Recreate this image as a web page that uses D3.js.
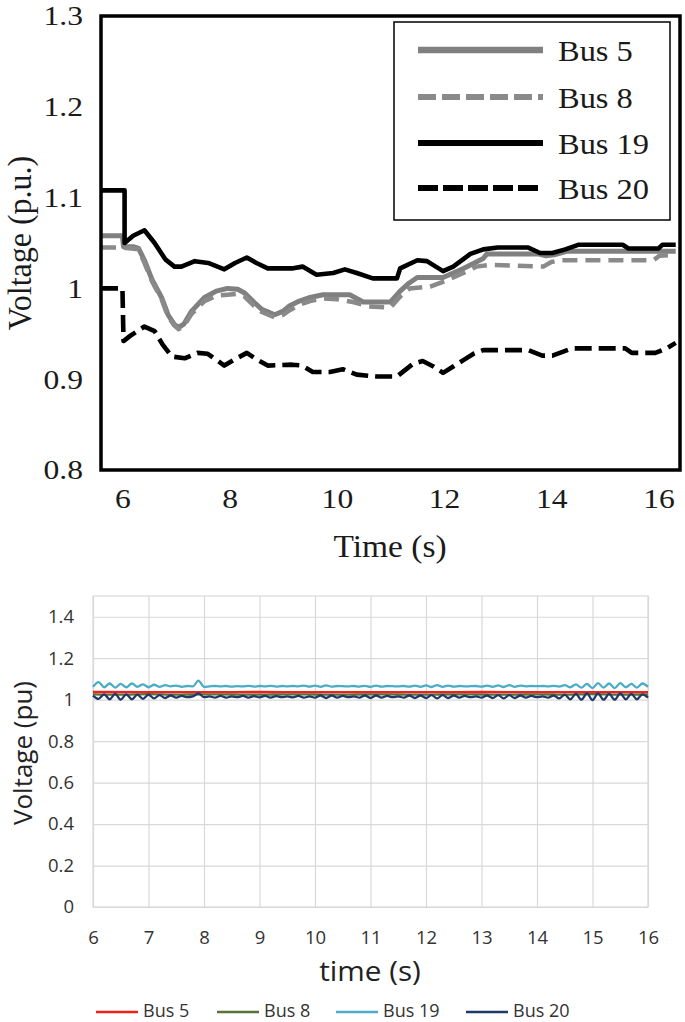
<!DOCTYPE html>
<html><head><meta charset="utf-8">
<script src="https://cdn.jsdelivr.net/npm/d3@7"></script>
<style>body{margin:0;background:#fff;} svg{display:block;}</style>
</head><body>
<svg id="c" width="685" height="1022"></svg>
<script>
// ================= TOP CHART DATA =================
const topSeriesNames = ["Bus 5", "Bus 8", "Bus 19", "Bus 20"];
const topYTicks = [0.8, 0.9, 1.0, 1.1, 1.2, 1.3];
const topYTickLabels = ["0.8", "0.9", "1", "1.1", "1.2", "1.3"];
const topXTicks = [6, 8, 10, 12, 14, 16];

const bus5Time = [5.6,6.0,6.02,6.2,6.3,6.41,6.55,6.73,6.85,6.97,7.05,7.15,7.29,7.53,7.75,7.96,8.15,8.28,8.45,8.6,8.84,9.0,9.12,9.3,9.5,9.74,10.24,10.49,11.0,11.18,11.35,11.5,11.98,12.36,12.73,12.8,13.75,13.9,14.05,14.3,16.32];
const bus5Volt = [1.058,1.058,1.046,1.046,1.044,1.031,1.010,0.990,0.971,0.960,0.957,0.961,0.975,0.990,0.997,1.0,0.999,0.995,0.985,0.977,0.971,0.975,0.981,0.986,0.990,0.993,0.993,0.985,0.985,0.997,1.006,1.012,1.012,1.022,1.033,1.038,1.038,1.036,1.037,1.041,1.041];

const bus8Time = [5.6,6.0,6.3,6.41,6.55,6.73,6.85,6.97,7.05,7.15,7.29,7.53,7.75,7.96,8.15,8.28,8.45,8.6,8.84,9.0,9.12,9.3,9.5,9.74,10.0,10.3,10.6,11.0,11.18,11.36,11.74,12.06,12.36,12.6,12.86,13.85,14.0,14.15,15.9,16.02,16.32];
const bus8Volt = [1.045,1.045,1.043,1.028,1.008,0.988,0.969,0.959,0.955,0.959,0.972,0.986,0.992,0.993,0.994,0.991,0.981,0.974,0.968,0.971,0.976,0.982,0.986,0.989,0.988,0.985,0.980,0.979,0.991,1.000,1.002,1.009,1.017,1.024,1.026,1.024,1.029,1.031,1.031,1.036,1.037];

const bus19Time = [5.6,6.04,6.04,6.2,6.41,6.6,6.8,6.97,7.1,7.35,7.6,7.9,8.1,8.32,8.5,8.71,9.16,9.36,9.62,9.93,10.15,10.37,10.67,11.12,11.18,11.5,11.68,11.98,12.17,12.49,12.73,13.0,13.57,13.79,14.02,14.26,14.5,15.33,15.44,16.0,16.07,16.32];
const bus19Volt = [1.108,1.108,1.050,1.058,1.064,1.050,1.032,1.024,1.024,1.030,1.028,1.021,1.028,1.034,1.028,1.022,1.022,1.024,1.015,1.017,1.021,1.017,1.011,1.011,1.022,1.031,1.030,1.019,1.024,1.038,1.043,1.045,1.045,1.039,1.039,1.043,1.048,1.048,1.044,1.044,1.048,1.048];

const bus20Time = [5.6,6.0,6.02,6.15,6.41,6.6,6.75,6.92,7.16,7.4,7.59,7.9,8.1,8.32,8.5,8.71,9.16,9.35,9.55,9.87,10.11,10.37,10.75,11.12,11.42,11.6,11.8,11.98,12.17,12.36,12.55,12.73,13.57,13.83,14.02,14.39,15.38,15.5,15.94,16.15,16.32];
const bus20Volt = [1.0,1.0,0.942,0.948,0.958,0.953,0.938,0.925,0.923,0.929,0.928,0.915,0.922,0.929,0.922,0.915,0.916,0.915,0.908,0.908,0.911,0.905,0.903,0.903,0.917,0.920,0.914,0.907,0.914,0.921,0.928,0.932,0.932,0.926,0.926,0.934,0.934,0.929,0.929,0.934,0.940];

// ================= BOTTOM CHART DATA =================
const botSeriesNames = ["Bus 5", "Bus 8", "Bus 19", "Bus 20"];
const botXTicks = [6,7,8,9,10,11,12,13,14,15,16];
const botYTicks = [0,0.2,0.4,0.6,0.8,1.0,1.2,1.4];
const botYTickLabels = ["0","0.2","0.4","0.6","0.8","1","1.2","1.4"];

const botTime = [6.0,6.1,6.2,6.3,6.4,6.5,6.6,6.7,6.8,6.9,7.0,7.1,7.2,7.3,7.4,7.5,7.6,7.7,7.8,7.9,
  8.0,8.1,8.2,8.3,8.4,8.5,8.6,8.7,8.8,8.9,9.0,9.1,9.2,9.3,9.4,9.5,9.6,9.7,9.8,9.9,
  10.0,10.1,10.2,10.3,10.4,10.5,10.6,10.7,10.8,10.9,11.0,11.1,11.2,11.3,11.4,11.5,11.6,11.7,11.8,11.9,
  12.0,12.1,12.2,12.3,12.4,12.5,12.6,12.7,12.8,12.9,13.0,13.1,13.2,13.3,13.4,13.5,13.6,13.7,13.8,13.9,
  14.0,14.1,14.2,14.3,14.4,14.5,14.6,14.7,14.8,14.9,15.0,15.1,15.2,15.3,15.4,15.5,15.6,15.7,15.8,15.9,16.0];
const bot19Volt = [1.062,1.085,1.060,1.078,1.058,1.076,1.060,1.078,1.062,1.074,1.060,1.072,1.062,1.070,1.064,1.068,1.062,1.066,1.064,1.092,
  1.062,1.064,1.066,1.064,1.066,1.063,1.065,1.064,1.067,1.063,1.066,1.064,1.067,1.063,1.066,1.064,1.066,1.064,1.068,1.063,
  1.068,1.062,1.069,1.063,1.066,1.065,1.064,1.066,1.063,1.067,1.062,1.068,1.063,1.066,1.065,1.064,1.066,1.063,1.068,1.062,
  1.069,1.061,1.070,1.062,1.068,1.063,1.066,1.064,1.065,1.066,1.063,1.068,1.062,1.069,1.061,1.070,1.062,1.068,1.064,1.066,
  1.065,1.066,1.064,1.067,1.063,1.070,1.060,1.074,1.058,1.076,1.056,1.080,1.058,1.078,1.056,1.080,1.060,1.076,1.058,1.078,1.062];
const bot20Volt = [1.020,1.004,1.026,1.002,1.028,1.000,1.026,1.002,1.024,1.004,1.024,1.006,1.022,1.008,1.020,1.010,1.018,1.012,1.016,1.030,
  1.012,1.016,1.010,1.018,1.010,1.016,1.012,1.018,1.010,1.017,1.011,1.018,1.010,1.017,1.012,1.016,1.011,1.018,1.010,1.016,
  1.010,1.020,1.008,1.020,1.010,1.018,1.012,1.016,1.010,1.020,1.008,1.020,1.010,1.018,1.012,1.016,1.010,1.020,1.008,1.020,
  1.008,1.022,1.006,1.022,1.008,1.020,1.010,1.018,1.012,1.016,1.010,1.020,1.008,1.022,1.006,1.022,1.008,1.020,1.010,1.018,
  1.012,1.016,1.010,1.020,1.006,1.024,1.002,1.028,1.000,1.030,0.998,1.030,1.000,1.028,1.000,1.030,1.002,1.028,1.002,1.026,1.010];
const bot5Time = [6,7,8,9,10,11,12,13,14,15,16];
const bot5Volt = [1.037,1.036,1.036,1.037,1.036,1.036,1.036,1.037,1.036,1.036,1.036];
const bot8Time = [6.0,6.5,7.0,7.5,8.0,8.5,9.0,9.5,10.0,10.5,11.0,11.5,12.0,12.5,13.0,13.5,14.0,14.5,15.0,15.5,16.0];
const bot8Volt = [1.026,1.024,1.027,1.024,1.026,1.025,1.024,1.026,1.025,1.024,1.026,1.025,1.024,1.026,1.025,1.024,1.026,1.024,1.027,1.024,1.025];

// ================= DRAW =================
const svg = d3.select("#c");
const serif = "'Liberation Serif','Times New Roman',serif";
const sans = "'Open Sans','Noto Sans',sans-serif";

function stretched(sel, sx) {
  sel.each(function() {
    const t = d3.select(this);
    const x = +t.attr("x") || 0;
    t.attr("x", x / sx).attr("transform", `scale(${sx},1)`);
  });
}

// ---------- top chart ----------
const tL = 101, tR = 680, tT = 16, tB = 470;
const tx = d3.scaleLinear().domain([5.6, 16.4]).range([tL, tR]);
const ty = d3.scaleLinear().domain([0.8, 1.3]).range([tB, tT]);
const gTop = svg.append("g");

const yAxT = gTop.append("g").attr("transform", `translate(${tL},0)`)
  .call(d3.axisLeft(ty).tickValues(topYTicks).tickFormat((d, i) => topYTickLabels[i]).tickSize(0).tickPadding(18));
yAxT.select(".domain").remove();
yAxT.selectAll("text").attr("font-family", serif).attr("font-size", 27).attr("fill", "#1a1a1a").attr("dy", "0.33em");
stretched(yAxT.selectAll("text"), 1.17);

const xAxT = gTop.append("g").attr("transform", `translate(0,${tB})`)
  .call(d3.axisBottom(tx).tickValues(topXTicks).tickFormat(d3.format("d")).tickSize(0));
xAxT.select(".domain").remove();
xAxT.selectAll("text").attr("font-family", serif).attr("font-size", 27).attr("fill", "#1a1a1a").attr("y", 38).attr("dy", 0);
stretched(xAxT.selectAll("text"), 1.17);

gTop.append("text").attr("font-family", serif).attr("font-size", 31).attr("fill", "#1a1a1a")
  .attr("text-anchor", "middle").attr("transform", `translate(390,557) scale(1.08,1)`).text("Time (s)");
gTop.append("text").attr("font-family", serif).attr("font-size", 32).attr("fill", "#1a1a1a")
  .attr("text-anchor", "middle").attr("transform", `translate(31,243) scale(1.03,1) rotate(-90)`).text("Voltage (p.u.)");

const topData = [
  {t: bus5Time, v: bus5Volt},
  {t: bus8Time, v: bus8Volt},
  {t: bus19Time, v: bus19Volt},
  {t: bus20Time, v: bus20Volt}
];
const topStyle = [
  {c: "#808080", w: 5, d: null},
  {c: "#8a8a8a", w: 4.5, d: "15,8"},
  {c: "#000", w: 4.6, d: null},
  {c: "#000", w: 4.6, d: "17,7"}
];
const lineT = d3.line().x(d => tx(d[0])).y(d => ty(d[1]));
topData.forEach((s, i) => {
  const pts = s.t.map((t, j) => [t, s.v[j]]);
  gTop.append("path").attr("d", lineT(pts)).attr("fill", "none")
    .attr("stroke", topStyle[i].c).attr("stroke-width", topStyle[i].w)
    .attr("stroke-dasharray", topStyle[i].d).attr("stroke-linejoin", "round");
});

gTop.append("rect").attr("x", tL).attr("y", tT).attr("width", tR - tL).attr("height", tB - tT)
  .attr("fill", "none").attr("stroke", "#000").attr("stroke-width", 3.5);

// top legend
const leg = gTop.append("g");
leg.append("rect").attr("x", 394).attr("y", 22).attr("width", 276).attr("height", 198)
  .attr("fill", "#fff").attr("stroke", "#000").attr("stroke-width", 1.5);
const legRowY = [50, 97, 143, 188];
topSeriesNames.forEach((name, i) => {
  leg.append("line").attr("x1", 418).attr("x2", 543).attr("y1", legRowY[i]).attr("y2", legRowY[i])
    .attr("stroke", topStyle[i].c).attr("stroke-width", i === 0 ? 6.5 : 6)
    .attr("stroke-dasharray", topStyle[i].d ? (i === 1 ? "18,6" : "20,5") : null);
  const t = leg.append("text").attr("x", 558).attr("y", legRowY[i] + 11)
    .attr("font-family", serif).attr("font-size", 29).attr("fill", "#1a1a1a").text(name);
  stretched(t, 1.12);
});

// ---------- bottom chart ----------
const bL = 93, bR = 648, bT = 596, bB = 907;
const bx = d3.scaleLinear().domain([6, 16]).range([bL, bR]);
const by = d3.scaleLinear().domain([0, 1.5]).range([bB, bT]);
const gBot = svg.append("g");
const gridColor = "#d9d9d9";

gBot.append("rect").attr("x", bL).attr("y", bT).attr("width", bR - bL).attr("height", bB - bT)
  .attr("fill", "none").attr("stroke", gridColor).attr("stroke-width", 1.2);

const yAxB = gBot.append("g").attr("transform", `translate(${bL},0)`)
  .call(d3.axisLeft(by).tickValues(botYTicks).tickFormat((d, i) => botYTickLabels[i]).tickSize(-(bR - bL)).tickPadding(19));
yAxB.select(".domain").remove();
yAxB.selectAll("line").attr("stroke", gridColor).attr("stroke-width", 1.2);
yAxB.selectAll("text").attr("font-family", sans).attr("font-size", 18.5).attr("fill", "#333");

const xAxB = gBot.append("g").attr("transform", `translate(0,${bB})`)
  .call(d3.axisBottom(bx).tickValues(botXTicks).tickFormat(d3.format("d")).tickSize(-(bB - bT)));
xAxB.select(".domain").remove();
xAxB.selectAll("line").attr("stroke", gridColor).attr("stroke-width", 1.2);
xAxB.selectAll("text").attr("font-family", sans).attr("font-size", 18.5).attr("fill", "#333").attr("y", 37).attr("dy", 0);

gBot.append("text").attr("font-family", sans).attr("font-size", 27).attr("fill", "#222")
  .attr("text-anchor", "middle").attr("transform", `translate(370,981) scale(1.1,1)`).text("time (s)");
gBot.append("text").attr("font-family", sans).attr("font-size", 26).attr("fill", "#222")
  .attr("text-anchor", "middle").attr("transform", `translate(32,753) rotate(-90)`).text("Voltage (pu)");

const botColors = ["#f0201c", "#5a7236", "#4bacc6", "#1f3a6a"];
const botData = [
  {t: bot5Time, v: bot5Volt},
  {t: bot8Time, v: bot8Volt},
  {t: botTime, v: bot19Volt},
  {t: botTime, v: bot20Volt}
];
const lineB = d3.line().x(d => bx(d[0])).y(d => by(d[1])).curve(d3.curveMonotoneX);
[1, 0, 2, 3].forEach(i => {
  const s = botData[i];
  const pts = s.t.map((t, j) => [t, s.v[j]]);
  gBot.append("path").attr("d", lineB(pts)).attr("fill", "none")
    .attr("stroke", botColors[i]).attr("stroke-width", 2.3).attr("stroke-linejoin", "round");
});

// bottom legend
const legB = gBot.append("g");
const legBX = [96, 217, 336, 466];
botSeriesNames.forEach((name, i) => {
  legB.append("line").attr("x1", legBX[i]).attr("x2", legBX[i] + 42).attr("y1", 1012).attr("y2", 1012)
    .attr("stroke", botColors[i]).attr("stroke-width", 2.3);
  legB.append("text").attr("x", legBX[i] + 47).attr("y", 1017).attr("font-family", sans)
    .attr("font-size", 18).attr("fill", "#333").text(name);
});
</script>
</body></html>
